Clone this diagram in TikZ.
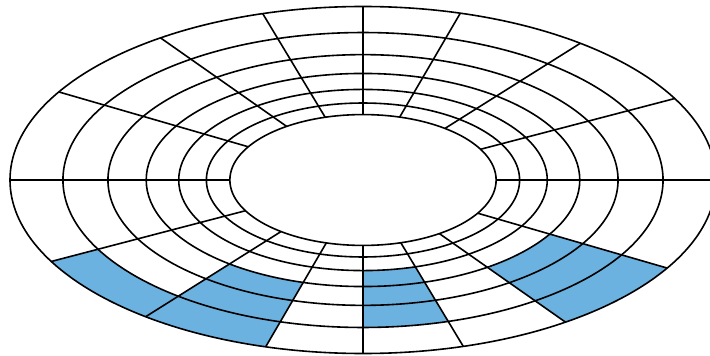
\documentclass[tikz,border=0pt]{standalone}
\definecolor{cellblue}{RGB}{108,178,224}
\begin{document}
\begin{tikzpicture}[
  gridline/.style={draw=black, line width=1.6pt},
  cell/.style={fill=cellblue}]
\useasboundingbox (-363pt,-176pt) rectangle (347pt,180pt);
\clip (-363pt,-176pt) rectangle (347pt,180pt);
\fill[white] (-363pt,-176pt) rectangle (347pt,180pt);
% shaded cells: start angle / end angle / ring (0 = outermost)
\foreach \s/\e/\j in {208/232/0, 232/254/0, 232/254/1, 232/254/2,
                      270/286.5/1, 270/286.5/2, 270/286.5/3,
                      305/329.5/0, 305/329.5/1, 305/329.5/2}{
  \pgfmathsetmacro\ao{353*0.85^\j}
  \pgfmathsetmacro\bo{173.5*0.85^\j}
  \pgfmathsetmacro\ai{353*0.85^(\j+1)}
  \pgfmathsetmacro\bi{173.5*0.85^(\j+1)}
  \fill[cell] (\s:\ao pt and \bo pt)
     arc[start angle=\s, end angle=\e, x radius=\ao pt, y radius=\bo pt]
     -- (\e:\ai pt and \bi pt)
     arc[start angle=\e, end angle=\s, x radius=\ai pt, y radius=\bi pt]
     -- cycle;
}
% concentric ellipses
\foreach \k in {0,...,6}{
  \pgfmathsetmacro\rx{353*0.85^\k}
  \pgfmathsetmacro\ry{173.5*0.85^\k}
  \draw[gridline] (0,0) ellipse[x radius=\rx pt, y radius=\ry pt];
}
% radial lines
\foreach \t in {0,28,52,74,90,106.5,125,149.5,180,208,232,254,270,286.5,305,329.5}{
  \draw[gridline] (\t:133.14pt and 65.44pt) -- (\t:353pt and 173.5pt);
}
\end{tikzpicture}
\end{document}
